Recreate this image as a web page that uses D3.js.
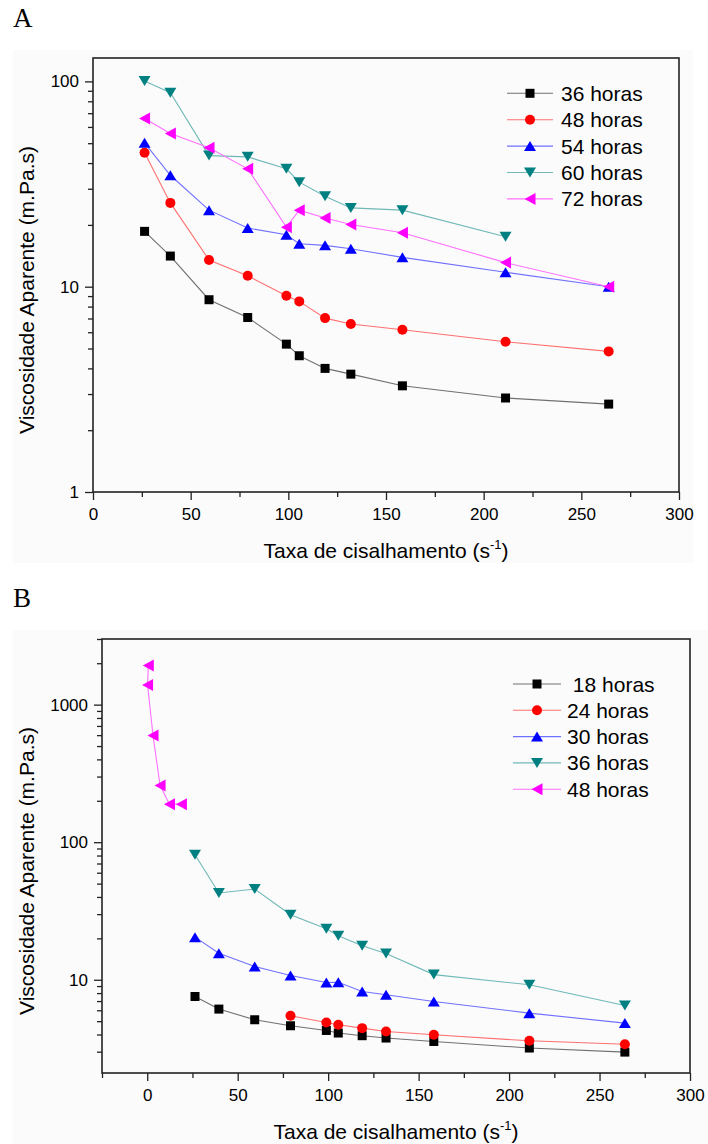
<!DOCTYPE html>
<html>
<head>
<meta charset="utf-8">
<script src="https://cdn.jsdelivr.net/npm/d3@7"></script>
<style>
body { margin: 0; background: #fff; }
svg text { font-family: Arial, "Liberation Sans", sans-serif; fill: #000; }
</style>
</head>
<body>
<svg id="chart" width="708" height="1144"></svg>
<script>
// shear rates (s^-1), same for every series
var shearRate = [26.4, 39.6, 59.4, 79.2, 99, 105.6, 118.8, 132, 158.4, 211.2, 264];

// panel A - apparent viscosity (m.Pa.s)
var a36h = [18.6, 14.1, 8.64, 7.08, 5.25, 4.61, 4.0, 3.75, 3.29, 2.87, 2.68];
var a48h = [44.9, 25.6, 13.5, 11.3, 9.04, 8.48, 7.03, 6.58, 6.17, 5.39, 4.84];
var a54h = [50.2, 34.9, 23.6, 19.3, 17.9, 16.2, 15.9, 15.3, 13.9, 11.75, 10.0];
var a60h = [100.4, 88.1, 43.5, 42.9, 37.5, 32.3, 27.6, 24.2, 23.6, 17.5];
var a72h = [66.0, 55.8, 47.5, 37.5, 19.5, 23.6, 21.6, 20.1, 18.3, 13.1, 10.0];
var legendA = ['36 horas', '48 horas', '54 horas', '60 horas', '72 horas'];

// panel B
var b18h = [7.56, 6.12, 5.12, 4.63, 4.28, 4.10, 3.92, 3.77, 3.56, 3.19, 2.98];
var b24h = [5.47, 4.89, 4.71, 4.45, 4.21, 3.98, 3.60, 3.40];
var b30h = [20.4, 15.6, 12.5, 10.75, 9.56, 9.6, 8.22, 7.78, 6.95, 5.72, 4.84];
var b36h = [81.1, 42.7, 45.7, 29.7, 23.5, 20.9, 17.7, 15.5, 10.9, 9.2, 6.5];
var b48hRate = [0.6, 0.2, 3.2, 7.1, 12.3, 18.9];
var b48h = [1928, 1387, 597, 258, 189, 189];
var legendB = [' 18 horas', '24 horas', '30 horas', '36 horas', '48 horas'];

var xTicksA = [0, 50, 100, 150, 200, 250, 300];
var xTicksB = [0, 50, 100, 150, 200, 250, 300];

var markerColors = ['#000000', '#ff0000', '#0000ff', '#008080', '#ff00ff'];
var lineColors = ['#707070', '#ff7070', '#7070ff', '#70b8b8', '#ff70ff'];
var markerKinds = ['square', 'circle', 'up', 'down', 'left'];

function markerPath(kind) {
	if (kind == 'square') return 'M-4.5,-4.5h9v9h-9Z';
	if (kind == 'circle') return 'M5,0A5,5 0 1,1 -5,0A5,5 0 1,1 5,0Z';
	if (kind == 'up') return 'M0,-5L6,5L-6,5Z';
	if (kind == 'down') return 'M0,5L6,-5L-6,-5Z';
	return 'M-5.5,0L5.5,-6L5.5,6Z';
}

function zipSeries(xs, ys) {
	return ys.map(function(v, i) { return [xs[i], v]; });
}

var svg = d3.select('#chart');

function drawPanel(opt) {
	var g = svg.append('g');

	g.append('rect').attr('x', opt.bg[0]).attr('y', opt.bg[1])
		.attr('width', opt.bg[2]).attr('height', opt.bg[3]).attr('fill', '#fbfbfb');

	g.append('text').text(opt.label)
		.attr('x', 13).attr('y', opt.labelY)
		.style('font-family', '"Liberation Serif", "Times New Roman", serif')
		.style('font-size', '27px');

	var x = d3.scaleLinear().domain(opt.xDomain).range([opt.left, opt.right]);
	var y = d3.scaleLog().domain(opt.yDomain).range([opt.bottom, opt.top]);

	// minor ticks
	var xMinor = d3.range(opt.xDomain[0], 301, 25).filter(function(d) { return d % 50 != 0; });
	var yMinor = [];
	[1, 10, 100, 1000].forEach(function(p) {
		for (var k = 2; k <= 9; k++) {
			var v = k * p;
			if (v >= opt.yDomain[0] && v <= opt.yDomain[1]) yMinor.push(v);
		}
	});

	g.append('g').attr('transform', 'translate(0,' + opt.bottom + ')')
		.call(d3.axisBottom(x).tickValues(xMinor).tickSize(5).tickFormat(''))
		.call(function(a) { a.select('.domain').remove(); })
		.selectAll('line').attr('stroke', '#222').attr('stroke-width', 1.3);

	var xa = g.append('g').attr('transform', 'translate(0,' + opt.bottom + ')')
		.call(d3.axisBottom(x).tickValues(opt.xTicks).tickSize(8).tickPadding(8).tickFormat(d3.format('d')));
	xa.select('.domain').remove();
	xa.selectAll('line').attr('stroke', '#222').attr('stroke-width', 1.3);
	xa.selectAll('text').style('font-size', '17px');

	g.append('g').attr('transform', 'translate(' + opt.left + ',0)')
		.call(d3.axisLeft(y).tickValues(yMinor).tickSize(5).tickFormat(''))
		.call(function(a) { a.select('.domain').remove(); })
		.selectAll('line').attr('stroke', '#222').attr('stroke-width', 1.3);

	var ya = g.append('g').attr('transform', 'translate(' + opt.left + ',0)')
		.call(d3.axisLeft(y).tickValues(opt.yTicks).tickSize(8).tickPadding(6).tickFormat(d3.format('d')));
	ya.select('.domain').remove();
	ya.selectAll('line').attr('stroke', '#222').attr('stroke-width', 1.3);
	ya.selectAll('text').style('font-size', '17px');

	g.append('rect').attr('x', opt.left).attr('y', opt.top)
		.attr('width', opt.right - opt.left).attr('height', opt.bottom - opt.top)
		.attr('fill', 'none').attr('stroke', '#222').attr('stroke-width', 1.6);

	var line = d3.line().x(function(d) { return x(d[0]); }).y(function(d) { return y(d[1]); });

	opt.series.forEach(function(s, i) {
		var sg = g.append('g');
		sg.append('path').datum(s).attr('d', line)
			.attr('fill', 'none').attr('stroke', lineColors[i]).attr('stroke-width', 1.1);
		sg.selectAll('path.pt').data(s).enter().append('path').attr('class', 'pt')
			.attr('d', markerPath(markerKinds[i]))
			.attr('transform', function(d) { return 'translate(' + x(d[0]) + ',' + y(d[1]) + ')'; })
			.attr('fill', markerColors[i]);
	});

	// legend
	opt.legend.forEach(function(name, i) {
		var ly = opt.legendY + i * opt.legendStep;
		g.append('line').attr('x1', opt.legendX[0]).attr('x2', opt.legendX[2])
			.attr('y1', ly).attr('y2', ly).attr('stroke', lineColors[i]).attr('stroke-width', 1.1);
		g.append('path').attr('d', markerPath(markerKinds[i]))
			.attr('transform', 'translate(' + opt.legendX[1] + ',' + ly + ')')
			.attr('fill', markerColors[i]);
		g.append('text').text(name).attr('x', opt.legendX[3]).attr('y', ly + 7.5)
			.style('font-size', '21px').style('white-space', 'pre');
	});

	// axis titles
	var xt = g.append('text').attr('x', (opt.left + opt.right) / 2).attr('y', opt.bottom + 66)
		.attr('text-anchor', 'middle').style('font-size', '21px');
	xt.append('tspan').text('Taxa de cisalhamento (s');
	xt.append('tspan').text('-1').attr('dy', -9).style('font-size', '13px');
	xt.append('tspan').text(')').attr('dy', 9);

	g.append('text').text('Viscosidade Aparente (m.Pa.s)')
		.attr('transform', 'translate(34,' + ((opt.top + opt.bottom) / 2 + 15) + ') rotate(-90)')
		.attr('text-anchor', 'middle').style('font-size', '21px');
}

drawPanel({
	label: 'A', labelY: 27, bg: [13, 50, 680, 513],
	left: 93, right: 679, top: 58, bottom: 492,
	xDomain: [0, 300], yDomain: [1, 130],
	xTicks: xTicksA, yTicks: [1, 10, 100],
	series: [zipSeries(shearRate, a36h), zipSeries(shearRate, a48h), zipSeries(shearRate, a54h),
		zipSeries(shearRate, a60h), zipSeries(shearRate, a72h)],
	legend: legendA, legendX: [507, 530, 553, 561], legendY: 93.3, legendStep: 26.4
});

drawPanel({
	label: 'B', labelY: 607, bg: [13, 630, 695, 514],
	left: 102, right: 690, top: 639, bottom: 1073,
	xDomain: [-25, 300], yDomain: [2.1, 3000],
	xTicks: xTicksB, yTicks: [10, 100, 1000],
	series: [zipSeries(shearRate, b18h), zipSeries(shearRate.slice(3), b24h), zipSeries(shearRate, b30h),
		zipSeries(shearRate, b36h), zipSeries(b48hRate, b48h)],
	legend: legendB, legendX: [513, 537, 561, 567], legendY: 684, legendStep: 26.3
});
</script>
</body>
</html>
